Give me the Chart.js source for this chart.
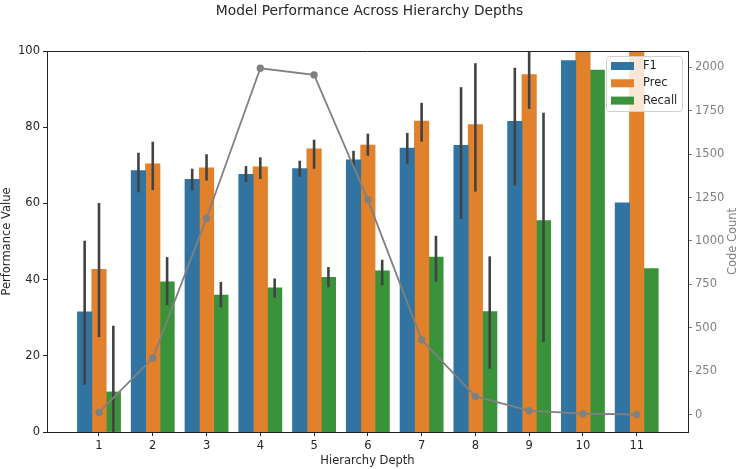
<!DOCTYPE html>
<html>
<head>
<meta charset="utf-8">
<script src="https://cdn.jsdelivr.net/npm/chart.js@4"></script>
<style>
html,body{margin:0;padding:0;background:#fff;}
#wrap{width:739px;height:469px;}
</style>
</head>
<body>
<div id="wrap"><canvas id="c" width="739" height="469"></canvas></div>
<script>
const depths = [1, 2, 3, 4, 5, 6, 7, 8, 9, 10, 11];
const f1 = [31.5, 68.6, 66.3, 67.6, 69.1, 71.4, 74.5, 75.2, 81.5, 97.5, 60.1];
const prec = [42.7, 70.4, 69.3, 69.6, 74.3, 75.3, 81.6, 80.7, 93.8, 100, 100];
const recall = [10.5, 39.4, 35.9, 37.8, 40.6, 42.3, 45.9, 31.6, 55.5, 95.0, 42.9];
const f1Lo = [12.4, 62.9, 63.4, 65.6, 67.0, 69.8, 70.4, 55.9, 64.7, null, null];
const f1Hi = [50.2, 73.3, 69.1, 69.8, 71.2, 73.8, 78.5, 90.5, 95.6, null, null];
const precLo = [24.9, 63.5, 66.0, 66.4, 69.1, 72.5, 76.2, 63.1, 84.8, null, null];
const precHi = [60.1, 76.2, 72.9, 72.1, 76.7, 78.3, 86.4, 96.8, 103, null, null];
const recLo = [-5, 33.3, 32.7, 35.3, 38.0, 38.5, 39.5, 16.6, 23.6, null, null];
const recHi = [27.9, 45.9, 39.4, 40.3, 43.3, 45.2, 51.5, 46.1, 83.8, null, null];
const codeCount = [13, 326, 1131, 1994, 1956, 1237, 431, 105, 23, 6, 1];
const leftTicks = [0, 20, 40, 60, 80, 100];
const rightTicks = [0, 250, 500, 750, 1000, 1250, 1500, 1750, 2000];
const seriesNames = ['F1', 'Prec', 'Recall'];
const colors = ['#3274a1', '#e1812c', '#3a923a'];

const FONT = 'DejaVu Sans';
const FS = 11.5;
const errLo = [f1Lo, precLo, recLo];
const errHi = [f1Hi, precHi, recHi];

function pts(arr){ return depths.map((d,i)=>({x:d, y:arr[i]})); }

const errPlugin = {
  id: 'errbars',
  afterDatasetDraw(chart, args){
    const k = args.index - 1;
    if (k < 0 || k > 2) return;
    const ctx = chart.ctx, ca = chart.chartArea, ys = chart.scales.y;
    ctx.save();
    ctx.beginPath(); ctx.rect(ca.left, ca.top, ca.right-ca.left, ca.bottom-ca.top); ctx.clip();
    ctx.strokeStyle = '#424242'; ctx.lineWidth = 2.6; ctx.lineCap = 'butt';
    args.meta.data.forEach((el, j) => {
      const lo = errLo[k][j], hi = errHi[k][j];
      if (lo == null || hi == null) return;
      ctx.beginPath();
      ctx.moveTo(el.x, ys.getPixelForValue(lo));
      ctx.lineTo(el.x, ys.getPixelForValue(hi));
      ctx.stroke();
    });
    ctx.restore();
  }
};

const decoPlugin = {
  id: 'deco',
  afterDraw(chart){
    const ctx = chart.ctx, ca = chart.chartArea;
    ctx.save();
    ctx.strokeStyle = '#222'; ctx.lineWidth = 1;
    ctx.beginPath(); ctx.moveTo(ca.left, ca.top+0.5); ctx.lineTo(ca.right, ca.top+0.5); ctx.stroke();
    ctx.fillStyle = '#262626';
    ctx.font = '13.8px "' + FONT + '"';
    ctx.textAlign = 'center'; ctx.textBaseline = 'middle';
    ctx.fillText('Model Performance Across Hierarchy Depths', 369.5, 11);
    ctx.font = FS + 'px "' + FONT + '"';
    ctx.fillText('Hierarchy Depth', (ca.left+ca.right)/2, 461);
    ctx.save();
    ctx.translate(7, (ca.top+ca.bottom)/2); ctx.rotate(-Math.PI/2);
    ctx.fillText('Performance Value', 0, 0);
    ctx.restore();
    ctx.save();
    ctx.fillStyle = '#808080';
    ctx.translate(733, (ca.top+ca.bottom)/2); ctx.rotate(-Math.PI/2);
    ctx.fillText('Code Count', 0, 0);
    ctx.restore();
    const bx = 606.5, by = 56.5, bw = 76, bh = 55, r = 3;
    ctx.beginPath();
    ctx.moveTo(bx+r, by); ctx.lineTo(bx+bw-r, by); ctx.quadraticCurveTo(bx+bw, by, bx+bw, by+r);
    ctx.lineTo(bx+bw, by+bh-r); ctx.quadraticCurveTo(bx+bw, by+bh, bx+bw-r, by+bh);
    ctx.lineTo(bx+r, by+bh); ctx.quadraticCurveTo(bx, by+bh, bx, by+bh-r);
    ctx.lineTo(bx, by+r); ctx.quadraticCurveTo(bx, by, bx+r, by);
    ctx.closePath();
    ctx.fillStyle = 'rgba(255,255,255,0.8)'; ctx.fill();
    ctx.strokeStyle = '#d0d0d0'; ctx.lineWidth = 1; ctx.stroke();
    const rows = [66, 83.3, 100.6];
    ctx.textAlign = 'left'; ctx.textBaseline = 'middle';
    seriesNames.forEach((n, k) => {
      ctx.fillStyle = colors[k];
      ctx.fillRect(611, rows[k]-4, 23, 8);
      ctx.fillStyle = '#262626';
      ctx.fillText(n, 643, rows[k]);
    });
    ctx.restore();
  }
};

const barDs = [f1, prec, recall].map((arr, k) => ({
  type: 'bar', label: seriesNames[k], data: pts(arr), backgroundColor: colors[k],
  borderWidth: 0, inflateAmount: 0.4, categoryPercentage: 0.8, barPercentage: 1.0, yAxisID: 'y', order: 1
}));

new Chart(document.getElementById('c'), {
  type: 'bar',
  data: {
    datasets: [
      {type: 'line', label: 'Code Count', data: pts(codeCount), yAxisID: 'y2',
       borderColor: '#808080', backgroundColor: '#808080', borderWidth: 1.8,
       pointRadius: 3.7, pointBackgroundColor: '#808080', pointBorderWidth: 0,
       tension: 0, fill: false, order: 0},
      ...barDs
    ]
  },
  plugins: [errPlugin, decoPlugin],
  options: {
    responsive: false, animation: false, devicePixelRatio: 1,
    layout: {padding: {top: 51, left: 0, right: 0, bottom: 0}},
    plugins: {legend: {display: false}, tooltip: {enabled: false}, title: {display: false}},
    scales: {
      x: {
        type: 'linear', min: 0.033, max: 11.954, offset: false,
        afterBuildTicks(s){ s.ticks = depths.map(v => ({value: v})); },
        afterFit(s){ s.height = 37; },
        grid: {offset: false, drawOnChartArea: false, drawTicks: true, tickLength: 4, color: '#222'},
        border: {display: true, color: '#222', width: 1},
        ticks: {color: '#262626', font: {family: FONT, size: FS}, padding: 3, maxRotation: 0, autoSkip: false,
                callback: v => String(v)}
      },
      y: {
        position: 'left', min: 0, max: 100,
        afterBuildTicks(s){ s.ticks = leftTicks.map(v => ({value: v})); },
        afterFit(s){ s.width = 47; },
        grid: {drawOnChartArea: false, drawTicks: true, tickLength: 4, color: '#222'},
        border: {display: true, color: '#222', width: 1},
        ticks: {color: '#262626', font: {family: FONT, size: FS}, padding: 3, callback: v => String(v)}
      },
      y2: {
        position: 'right', min: -99.7, max: 2093.7,
        afterBuildTicks(s){ s.ticks = rightTicks.map(v => ({value: v})); },
        afterFit(s){ s.width = 51; },
        grid: {drawOnChartArea: false, drawTicks: true, tickLength: 4, color: '#808080'},
        border: {display: true, color: '#222', width: 1},
        ticks: {color: '#808080', font: {family: FONT, size: FS}, padding: 3, callback: v => String(v)}
      }
    }
  }
});
</script>
</body>
</html>
